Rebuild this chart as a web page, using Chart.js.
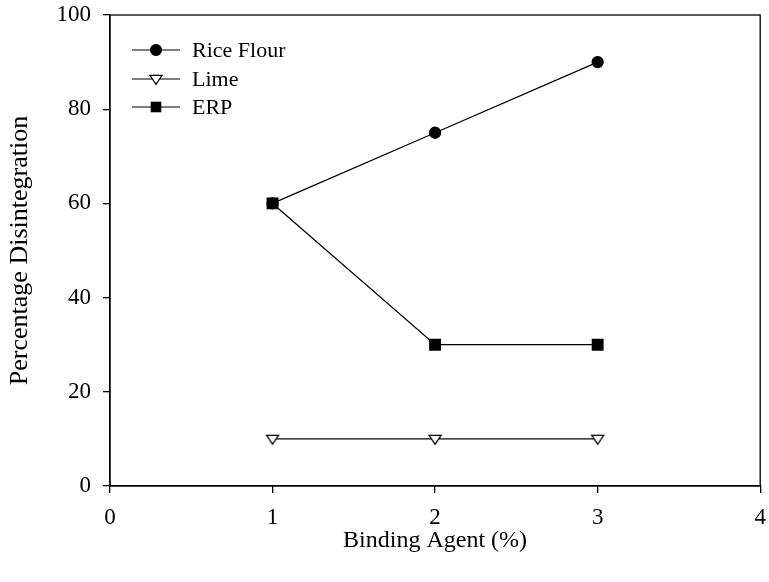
<!DOCTYPE html>
<html>
<head>
<meta charset="utf-8">
<script src="https://cdn.jsdelivr.net/npm/chart.js@4.4.1/dist/chart.umd.min.js"></script>
<style>
  html, body { margin: 0; padding: 0; background: #fff; }
  #wrap { width: 769px; height: 582px; position: relative; }
</style>
</head>
<body>
<div id="wrap"><canvas id="c" width="769" height="582"></canvas></div>
<script>
// Binding agent level (%) on the x axis
const bindingAgent = [1, 2, 3];
// Percentage disintegration for each binder
const riceFlour = [60, 75, 90];
const lime = [10, 10, 10];
const erp = [60, 30, 30];
const seriesNames = ['Rice Flour', 'Lime', 'ERP'];
const xTicks = [0, 1, 2, 3, 4];
const yTicks = [0, 20, 40, 60, 80, 100];

const FONT = '"Liberation Serif", "Times New Roman", serif';

const toPoints = (vals) => vals.map((v, i) => ({ x: bindingAgent[i], y: v }));

// Frame around the plot plus an in-plot legend (line through marker)
const framePlugin = {
  id: 'frame',
  afterDatasetsDraw(chart) {
    const { ctx, chartArea: a } = chart;
    ctx.save();
    ctx.strokeStyle = '#000';
    ctx.lineWidth = 1.3;
    ctx.strokeRect(a.left, a.top, a.right - a.left, a.bottom - a.top);

    // legend
    const x0 = a.left + 22, x1 = a.left + 70, mx = (x0 + x1) / 2;
    const rows = [50, 79, 107];
    chart.data.datasets.forEach((ds, i) => {
      const y = rows[i];
      ctx.strokeStyle = '#000';
      ctx.lineWidth = 1.2;
      ctx.beginPath();
      ctx.moveTo(x0, y); ctx.lineTo(x1, y); ctx.stroke();
      ctx.fillStyle = ds.pointBackgroundColor;
      ctx.lineWidth = 1.2;
      const r = ds.pointRadius;
      ctx.beginPath();
      if (ds.pointStyle === 'circle') {
        ctx.arc(mx, y, r, 0, Math.PI * 2);
        ctx.fill(); ctx.stroke();
      } else if (ds.pointStyle === 'rect') {
        const s = r * Math.SQRT2;
        ctx.fillRect(mx - s / 2, y - s / 2, s, s);
      } else {
        ctx.moveTo(mx - r, y - r * 0.6);
        ctx.lineTo(mx + r, y - r * 0.6);
        ctx.lineTo(mx, y + r * 0.9);
        ctx.closePath();
        ctx.fill(); ctx.stroke();
      }
      ctx.fillStyle = '#000';
      ctx.font = '22px ' + FONT;
      ctx.textBaseline = 'middle';
      ctx.textAlign = 'left';
      ctx.fillText(ds.label, x1 + 12, y + 1);
    });
    ctx.restore();
  }
};

// Downward open triangle marker
function makeTriangleDown(size) {
  const c = document.createElement('canvas');
  const s = size + 4;
  c.width = s; c.height = s;
  const g = c.getContext('2d');
  const cx = s / 2, cy = s / 2, r = size / 2;
  g.fillStyle = '#fff';
  g.strokeStyle = '#000';
  g.lineWidth = 1.3;
  g.beginPath();
  g.moveTo(cx - r, cy - r * 0.6);
  g.lineTo(cx + r, cy - r * 0.6);
  g.lineTo(cx, cy + r * 0.9);
  g.closePath();
  g.fill(); g.stroke();
  return c;
}
const triDown = makeTriangleDown(12);

new Chart(document.getElementById('c'), {
  type: 'line',
  data: {
    datasets: [
      {
        label: seriesNames[0], data: toPoints(riceFlour),
        borderColor: '#000', borderWidth: 1.3,
        pointStyle: 'circle', pointRadius: 5.5,
        pointBackgroundColor: '#000', pointBorderColor: '#000',
        tension: 0
      },
      {
        label: seriesNames[1], data: toPoints(lime),
        borderColor: '#000', borderWidth: 1.3,
        pointStyle: triDown, pointRadius: 6,
        pointBackgroundColor: '#fff', pointBorderColor: '#000',
        tension: 0
      },
      {
        label: seriesNames[2], data: toPoints(erp),
        borderColor: '#000', borderWidth: 1.3,
        pointStyle: 'rect', pointRadius: 7.5,
        pointBackgroundColor: '#000', pointBorderColor: '#000',
        tension: 0
      }
    ]
  },
  options: {
    responsive: false,
    animation: false,
    events: [],
    layout: { padding: { top: 15, right: 4, left: 0, bottom: 0 } },
    plugins: {
      legend: { display: false },
      tooltip: { enabled: false }
    },
    scales: {
      x: {
        type: 'linear', min: 0, max: 4,
        afterFit(s) { s.height = 96; s.paddingLeft = 0; s.paddingRight = 0; },
        afterBuildTicks(s) { s.ticks = xTicks.map(v => ({ value: v })); },
        border: { display: true, color: '#000', width: 1.3 },
        grid: { drawOnChartArea: false, tickLength: 7, color: '#000', lineWidth: 1.3 },
        ticks: { color: '#000', font: { family: FONT, size: 23 }, padding: 11, maxRotation: 0 },
        title: { display: true, text: 'Binding Agent (%)', color: '#000',
                 font: { family: FONT, size: 24 }, padding: { top: 0, bottom: 27 } }
      },
      y: {
        type: 'linear', min: 0, max: 100,
        afterFit(s) { s.width = 110; s.paddingTop = 0; s.paddingBottom = 0; },
        afterBuildTicks(s) { s.ticks = yTicks.map(v => ({ value: v })); },
        border: { display: true, color: '#000', width: 1.3 },
        grid: { drawOnChartArea: false, tickLength: 7, color: '#000', lineWidth: 1.3 },
        ticks: { color: '#000', font: { family: FONT, size: 23 }, padding: 12 },
        title: { display: true, text: 'Percentage Disintegration', color: '#000',
                 font: { family: FONT, size: 26 }, padding: { top: 5, bottom: 0 } }
      }
    }
  },
  plugins: [framePlugin]
});
</script>
</body>
</html>
